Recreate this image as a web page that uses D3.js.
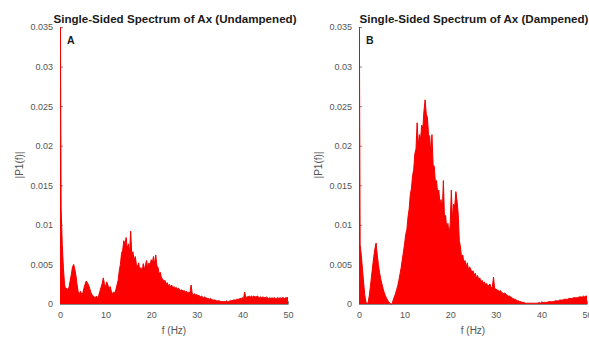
<!DOCTYPE html>
<html>
<head>
<meta charset="utf-8">
<script src="https://cdn.jsdelivr.net/npm/d3@7"></script>
<style>
  html, body { margin: 0; padding: 0; background: #fff; }
  svg { display: block; }
  text { font-family: "Liberation Sans", Arial, sans-serif; }
</style>
</head>
<body>
<svg id="chart" width="589" height="341"></svg>
<script>
// Frequency bins: 0 .. 50 Hz in 0.25 Hz steps
const FREQ_STEP = 0.25;
const FREQ_MAX = 50;
// Amplitudes are stored in units of 1e-4 (|P1(f)|)
const AMP_UNIT = 1e-4;

// Undampened spectrum, one row per 5 Hz
const undampened = [
  500,120,75,45,25,18,20,17,22,30,38,47,50,44,36,24,15,13,16,12,
  14,20,25,29,27,24,20,15,12,10,9,8,10,7,11,16,21,26,33,25,
  22,28,24,19,22,16,13,15,14,18,24,30,42,50,64,68,80,74,84,70,
  76,64,92,62,66,54,60,50,47,52,42,46,40,51,43,50,55,44,52,48,
  56,52,60,50,62,48,46,38,40,33,32,28,30,25,27,23,25,21,24,20,
  22,20,21,19,20,18,17,18,16,17,15,16,14,15,14,24,13,12,13,11,
  12,10,11,9,10,9,8,9,8,7,7,6,7,6,5,5,5,4,4,4,
  4,3,3,3,3,3,4,3,3,4,4,4,5,5,5,6,6,6,7,7,
  8,7,15,8,9,9,10,9,10,9,10,9,9,10,9,8,9,8,9,8,
  8,9,8,7,8,7,8,7,8,7,7,8,7,8,7,8,8,7,8,8,
  8
];

// Dampened spectrum, one row per 5 Hz
const dampened = [
  500,75,62,45,28,12,3,0,2,10,22,35,48,60,70,77,62,50,40,32,
  26,20,15,11,8,5,3,1,0,0,5,9,13,18,23,30,38,46,56,66,
  76,88,94,110,120,138,146,162,170,190,196,229,200,214,208,226,222,244,258,240,
  236,214,212,190,214,176,174,154,156,140,144,126,132,114,156,108,112,94,102,88,
  100,144,106,126,124,142,130,114,80,72,58,62,52,55,46,52,43,47,44,40,
  42,36,39,33,36,31,33,28,30,26,28,24,26,22,24,25,20,22,34,19,
  19,18,17,16,17,15,14,13,14,12,11,10,10,9,8,7,6,6,5,4,
  4,3,3,2,2,2,1,1,1,1,1,1,1,1,1,1,1,1,2,1,
  2,2,2,2,2,2,3,3,3,3,3,3,4,4,4,4,5,5,5,5,
  6,6,6,6,7,7,7,7,8,8,8,8,8,9,9,9,9,10,9,10,
  10
];

const yTicks = [0, 0.005, 0.01, 0.015, 0.02, 0.025, 0.03, 0.035];
const yTickLabels = ["0", "0.005", "0.01", "0.015", "0.02", "0.025", "0.03", "0.035"];
const xTicks = [0, 10, 20, 30, 40, 50];
const xTickLabels = ["0", "10", "20", "30", "40", "50"];

const panels = [
  { title: "Single-Sided Spectrum of Ax (Undampened)", tag: "A", values: undampened, left: 60 },
  { title: "Single-Sided Spectrum of Ax (Dampened)",   tag: "B", values: dampened,   left: 359 }
];

const svg = d3.select("#chart");
const plotW = 228, plotTop = 27, plotBottom = 304;
const textGrey = "#555";

panels.forEach((p, idx) => {
  const x = d3.scaleLinear().domain([0, FREQ_MAX]).range([p.left, p.left + plotW]);
  const y = d3.scaleLinear().domain([0, 0.035]).range([plotBottom, plotTop]);
  const data = p.values.map((v, i) => ({ f: i * FREQ_STEP, a: v * AMP_UNIT }));

  const clipId = "clip" + idx;
  svg.append("clipPath").attr("id", clipId)
    .append("rect")
    .attr("x", p.left).attr("y", plotTop)
    .attr("width", plotW + 1).attr("height", plotBottom - plotTop + 1);

  const g = svg.append("g");

  // Left axis with inward ticks
  const yAxis = d3.axisLeft(y).tickValues(yTicks)
    .tickFormat((d, i) => yTickLabels[i])
    .tickSizeInner(-3).tickSizeOuter(0).tickPadding(7);
  const ya = g.append("g").attr("transform", `translate(${p.left},0)`).call(yAxis);
  ya.select(".domain").attr("stroke", "#888");
  ya.selectAll(".tick line").attr("stroke", "#888");
  ya.selectAll("text").attr("fill", textGrey).attr("font-size", 9)
    .attr("font-family", "Liberation Sans, Arial, sans-serif");

  // Bottom axis
  const xAxis = d3.axisBottom(x).tickValues(xTicks)
    .tickFormat((d, i) => xTickLabels[i])
    .tickSizeInner(-3).tickSizeOuter(0).tickPadding(8);
  const xa = g.append("g").attr("transform", `translate(0,${plotBottom})`).call(xAxis);
  xa.select(".domain").attr("stroke", "#888");
  xa.selectAll(".tick line").attr("stroke", "#888");
  xa.selectAll("text").attr("fill", textGrey).attr("font-size", 9)
    .attr("font-family", "Liberation Sans, Arial, sans-serif");

  // Spectrum as a filled area
  const area = d3.area()
    .x(d => x(d.f))
    .y0(y(0))
    .y1(d => y(d.a));
  const line = d3.line()
    .x(d => x(d.f))
    .y(d => y(d.a));
  g.append("path").datum(data)
    .attr("clip-path", `url(#${clipId})`)
    .attr("d", area)
    .attr("fill", "#ff0000");
  g.append("path").datum(data)
    .attr("clip-path", `url(#${clipId})`)
    .attr("d", line)
    .attr("fill", "none")
    .attr("stroke", "#f00000")
    .attr("stroke-width", 1);

  // Title
  g.append("text")
    .attr("x", p.left + plotW / 2 + 1).attr("y", 23)
    .attr("text-anchor", "middle")
    .attr("font-size", 11.6).attr("font-weight", "bold")
    .attr("fill", "#1a1a1a")
    .text(p.title);

  // Panel tag
  g.append("text")
    .attr("x", p.left + 7).attr("y", 44)
    .attr("font-size", 10.5).attr("font-weight", "bold")
    .attr("fill", "#1a1a1a")
    .text(p.tag);

  // Axis labels
  g.append("text")
    .attr("x", p.left + plotW / 2).attr("y", 334)
    .attr("text-anchor", "middle")
    .attr("font-size", 10).attr("fill", textGrey)
    .text("f (Hz)");
  g.append("text")
    .attr("transform", `translate(${p.left - 37},165) rotate(-90)`)
    .attr("text-anchor", "middle")
    .attr("font-size", 10).attr("fill", textGrey)
    .text("|P1(f)|");
});
</script>
</body>
</html>
